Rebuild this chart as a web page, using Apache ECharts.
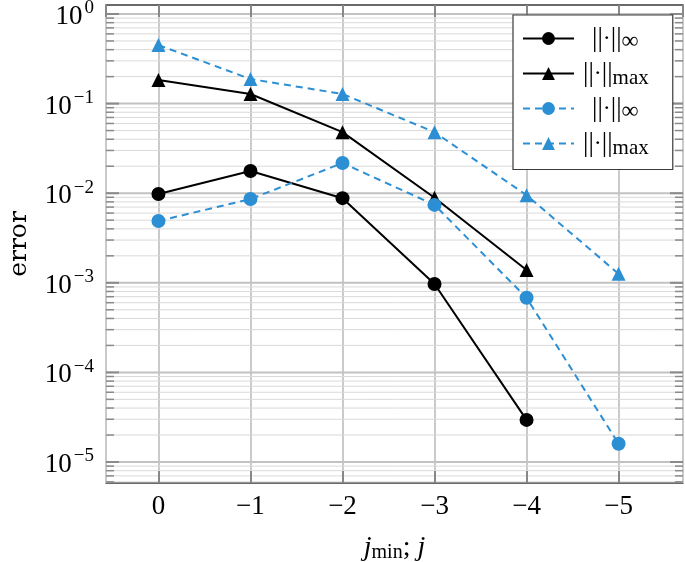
<!DOCTYPE html>
<html>
<head>
<meta charset="utf-8">
<script src="https://cdn.jsdelivr.net/npm/echarts@6/dist/echarts.min.js"></script>
<style>
  html, body { margin: 0; padding: 0; background: #fff; }
  #chart { width: 685px; height: 562px; }
</style>
</head>
<body>
<div id="chart"></div>
<script>
// x positions: j_min / j = 0, -1, ... -5 (plotted as 0..5, labelled with minus sign)
const jLevels = [0, 1, 2, 3, 4, 5];

// black (solid) series
const blackInf = [0.0098, 0.0177, 0.0088, 0.00097, 0.0000295];
const blackMax = [0.183, 0.128, 0.048, 0.0089, 0.00139];
// blue (dashed) series
const blueInf = [0.0049, 0.0086, 0.0217, 0.0074, 0.00068, 0.000016];
const blueMax = [0.45, 0.188, 0.128, 0.048, 0.0095, 0.00126];

const legendNames = ['inf-solid', 'max-solid', 'inf-dashed', 'max-dashed'];
const infLabel = '{gap|}{bar|||}{dot|·}{bar|||}{sub|∞}';
const maxLabel = '{bar|||}{dot|·}{bar|||}{subm|max}';
const legendText = {
  'inf-solid': infLabel,
  'max-solid': maxLabel,
  'inf-dashed': infLabel,
  'max-dashed': maxLabel
};

const yMin = 5.83e-6;
const yMax = 1.26;
const blue = '#2c8fd4';
const serif = '"Liberation Serif", "DejaVu Serif", serif';

// gridline positions for the log axis (decades and 2..9 in between)
const yGridVals = [];
for (let e = -6; e <= 0; e++) {
  for (let m = 1; m <= 9; m++) {
    const v = m * Math.pow(10, e);
    if (v >= yMin && v <= yMax) yGridVals.push([0, v, m === 1 ? 1 : 0]);
  }
}

const pair = (vals) => vals.map((v, i) => [jLevels[i], v]);

const chart = echarts.init(document.getElementById('chart'));

chart.setOption({
  animation: false,
  backgroundColor: '#fff',
  textStyle: { fontFamily: serif },
  grid: {
    left: 106, top: 5, width: 577, height: 478,
    outerBoundsMode: 'none',
    containLabel: false,
    show: true, borderColor: '#3a3a3a', borderWidth: 1.3,
    backgroundColor: 'transparent'
  },
  legend: {
    data: legendNames,
    orient: 'vertical',
    left: 513, top: 15,
    padding: [10, 24, 11, 9],
    itemGap: 6.5,
    itemWidth: 51,
    itemHeight: 16,
    backgroundColor: '#fff',
    borderColor: '#3a3a3a',
    borderWidth: 1.2,
    borderRadius: 0,
    formatter: (name) => legendText[name],
    textStyle: {
      fontFamily: serif,
      color: '#000',
      padding: [0, 0, 0, 4],
      rich: {
        gap: { width: 9, lineHeight: 30 },
        bar: { fontSize: 27, fontFamily: serif, color: '#000', lineHeight: 30 },
        dot: { fontSize: 24, fontFamily: serif, color: '#000', lineHeight: 30 },
        sub: { fontSize: 24, fontFamily: serif, color: '#000', lineHeight: 10, verticalAlign: 'bottom' },
        subm: { fontSize: 21, fontFamily: serif, color: '#000', lineHeight: 12, verticalAlign: 'bottom' }
      }
    }
  },
  xAxis: [{
    type: 'value',
    min: -0.57,
    max: 5.7,
    name: '{i|j}{sub|min}{n|; }{i|j}',
    nameLocation: 'middle',
    nameGap: 50,
    nameTextStyle: {
      rich: {
        i: { fontSize: 28, fontStyle: 'italic', fontFamily: serif, color: '#000', lineHeight: 30 },
        n: { fontSize: 28, fontFamily: serif, color: '#000', lineHeight: 30 },
        sub: { fontSize: 20, fontFamily: serif, color: '#000', lineHeight: 14, verticalAlign: 'bottom' }
      }
    },
    axisLine: { show: false },
    axisTick: { show: true, inside: true, length: 12, lineStyle: { color: '#888', width: 2 } },
    axisLabel: {
      margin: 10,
      fontSize: 27,
      fontFamily: serif,
      color: '#000',
      showMinLabel: false,
      showMaxLabel: false,
      formatter: (v) => {
        if (Math.abs(v - Math.round(v)) > 1e-6) return '';
        const r = Math.round(v);
        return r === 0 ? '0' : '−' + r;
      }
    },
    splitLine: { show: true, lineStyle: { color: '#cacaca', width: 2 } }
  }, {
    type: 'value',
    position: 'top',
    min: -0.57,
    max: 5.7,
    axisLine: { show: false },
    axisTick: { show: true, inside: true, length: 12, lineStyle: { color: '#888', width: 2 } },
    axisLabel: { show: false },
    splitLine: { show: false }
  }],
  yAxis: {
    type: 'log',
    logBase: 10,
    min: yMin,
    max: yMax,
    name: 'error',
    nameLocation: 'middle',
    nameRotate: 90,
    nameGap: 74,
    nameTextStyle: { fontSize: 25, fontFamily: '"DejaVu Serif", serif', color: '#000' },
    axisLine: { show: false },
    axisTick: { show: false },
    splitLine: { show: false },
    axisLabel: {
      margin: 12,
      showMinLabel: false,
      showMaxLabel: false,
      formatter: (v) => {
        const e = Math.log10(v);
        if (Math.abs(e - Math.round(e)) > 1e-6) return '';
        const r = Math.round(e);
        return '{b|10}{s|' + (r < 0 ? '−' + (-r) : r) + '}';
      },
      rich: {
        b: { fontSize: 27, fontFamily: serif, color: '#000', lineHeight: 30, padding: [6, 0, 0, 0] },
        s: { fontSize: 19, fontFamily: serif, color: '#000', lineHeight: 14, verticalAlign: 'top', padding: [0, 0, 0, 2] }
      }
    }
  },
  series: [
    {
      // horizontal log gridlines with inside ticks on both sides
      type: 'custom',
      silent: true,
      z: 0,
      data: yGridVals,
      renderItem: (params, api) => {
        const cs = params.coordSys;
        const y = api.coord([0, api.value(1)])[1];
        const major = api.value(2) === 1;
        const tl = major ? 13 : 8;
        return {
          type: 'group',
          children: [
            { type: 'line', shape: { x1: cs.x, y1: y, x2: cs.x + cs.width, y2: y },
              style: { stroke: major ? '#c2c2c2' : '#dadada', lineWidth: major ? 2 : 1 } },
            { type: 'line', shape: { x1: cs.x, y1: y, x2: cs.x + tl, y2: y },
              style: { stroke: '#8a8a8a', lineWidth: major ? 2 : 1.5 } },
            { type: 'line', shape: { x1: cs.x + cs.width - tl, y1: y, x2: cs.x + cs.width, y2: y },
              style: { stroke: '#8a8a8a', lineWidth: major ? 2 : 1.5 } }
          ]
        };
      }
    },
    {
      name: 'inf-solid', type: 'line', data: pair(blackInf),
      symbol: 'circle', symbolSize: 14, z: 3,
      lineStyle: { color: '#000', width: 2 }, itemStyle: { color: '#000' }
    },
    {
      name: 'max-solid', type: 'line', data: pair(blackMax),
      symbol: 'triangle', symbolSize: 14, z: 3,
      lineStyle: { color: '#000', width: 2 }, itemStyle: { color: '#000' }
    },
    {
      name: 'inf-dashed', type: 'line', data: pair(blueInf),
      symbol: 'circle', symbolSize: 14, z: 3,
      lineStyle: { color: blue, width: 2, type: [7, 5] }, itemStyle: { color: blue }
    },
    {
      name: 'max-dashed', type: 'line', data: pair(blueMax),
      symbol: 'triangle', symbolSize: 14, z: 3,
      lineStyle: { color: blue, width: 2, type: [7, 5] }, itemStyle: { color: blue }
    }
  ]
});
</script>
</body>
</html>
